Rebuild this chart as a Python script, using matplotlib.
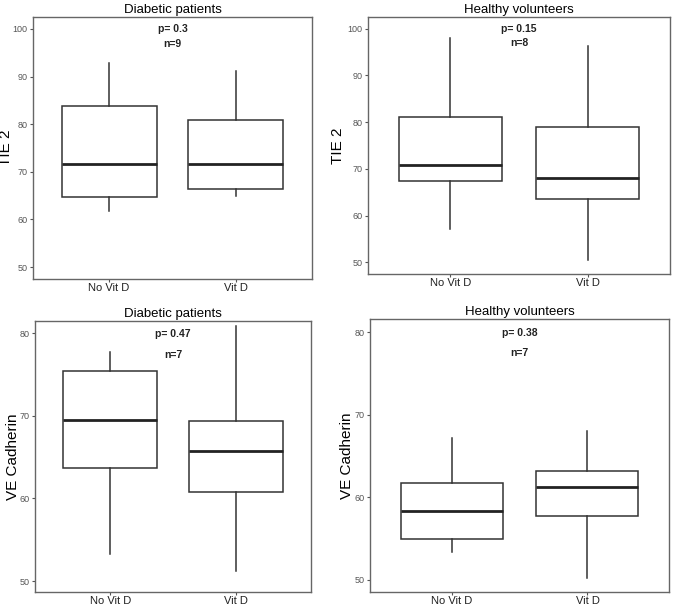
import matplotlib
matplotlib.use("Agg")
import matplotlib.pyplot as plt

plt.rcParams['font.family'] = ['Liberation Sans', 'DejaVu Sans']

groups = ["No Vit D", "Vit D"]

# TIE 2 - Diabetic patients: [whisker low, Q1, median, Q3, whisker high]
tie2_diab_novitd = [61.8, 64.8, 71.6, 83.8, 92.8]
tie2_diab_vitd = [64.9, 66.3, 71.6, 80.8, 91.2]
# TIE 2 - Healthy volunteers
tie2_heal_novitd = [57.2, 67.4, 70.8, 81.0, 97.9]
tie2_heal_vitd = [50.5, 63.6, 68.0, 79.0, 96.4]
# VE Cadherin - Diabetic patients
vec_diab_novitd = [53.3, 63.7, 69.5, 75.5, 77.8]
vec_diab_vitd = [51.2, 60.8, 65.8, 69.4, 80.9]
# VE Cadherin - Healthy volunteers
vec_heal_novitd = [53.3, 54.9, 58.3, 61.7, 67.2]
vec_heal_vitd = [50.2, 57.7, 61.2, 63.2, 68.0]

titles = ["Diabetic patients", "Healthy volunteers", "Diabetic patients", "Healthy volunteers"]
ylabels = ["TIE 2", "TIE 2", "VE Cadherin", "VE Cadherin"]
pvals = ["p= 0.3", "p= 0.15", "p= 0.47", "p= 0.38"]
nvals = ["n=9", "n=8", "n=7", "n=7"]
yticks_top = [50, 60, 70, 80, 90, 100]
yticks_bot = [50, 60, 70, 80]

W, H = 675, 607
fig = plt.figure(figsize=(W / 100, H / 100), dpi=100)

# axes rectangles in pixels: (left, top, right, bottom)
rects = [(33, 17, 312, 279), (368, 17, 670, 274), (35, 321, 311, 592), (370, 319, 669, 592)]
ylims = [(47.5, 102.5), (47.5, 102.5), (48.67, 81.5), (48.5, 81.6)]
text_y = [(100, 96.9), (100, 96.9), (79.9, 77.4), (79.9, 77.5)]
ylabel_x = [6, 338, 13, 347]
data = [(tie2_diab_novitd, tie2_diab_vitd), (tie2_heal_novitd, tie2_heal_vitd),
        (vec_diab_novitd, vec_diab_vitd), (vec_heal_novitd, vec_heal_vitd)]

edge = "#333333"
for i in range(4):
    l, t, r, b = rects[i]
    ax = fig.add_axes([l / W, 1 - b / H, (r - l) / W, (b - t) / H])
    stats = []
    for name, vals in zip(groups, data[i]):
        stats.append(dict(label=name, whislo=vals[0], q1=vals[1], med=vals[2],
                          q3=vals[3], whishi=vals[4], fliers=[]))
    ax.bxp(stats, positions=[1, 2], widths=0.75, showfliers=False, showcaps=False,
           patch_artist=True,
           boxprops=dict(facecolor="white", edgecolor=edge, linewidth=1.1),
           whiskerprops=dict(color=edge, linewidth=1.1),
           medianprops=dict(color="#222222", linewidth=2.0))
    ax.set_xlim(0.4, 2.6)
    ax.set_ylim(*ylims[i])
    ax.set_yticks(yticks_top if i < 2 else yticks_bot)
    ax.set_xticks([1, 2])
    ax.set_xticklabels(groups, fontsize=8, color="#222222")
    ax.tick_params(axis='y', labelsize=6.5, labelcolor="#555555", color="#555555",
                   length=2.5, width=0.8, pad=1.5)
    ax.tick_params(axis='x', color="#555555", length=2, width=0.8, pad=1)
    for sp in ax.spines.values():
        sp.set_color("#666666")
        sp.set_linewidth(1.0)
    ax.set_title(titles[i], fontsize=9.5, pad=3)
    ax.text(1.5, text_y[i][0], pvals[i], ha="center", va="center", fontsize=7.5,
            fontweight="bold", color="#222222")
    ax.text(1.5, text_y[i][1], nvals[i], ha="center", va="center", fontsize=7.5,
            fontweight="bold", color="#222222")
    fig.text(ylabel_x[i] / W, 1 - ((t + b) / 2) / H, ylabels[i], rotation=90,
             ha="center", va="center", fontsize=11)

fig.savefig("out.png", dpi=100)
